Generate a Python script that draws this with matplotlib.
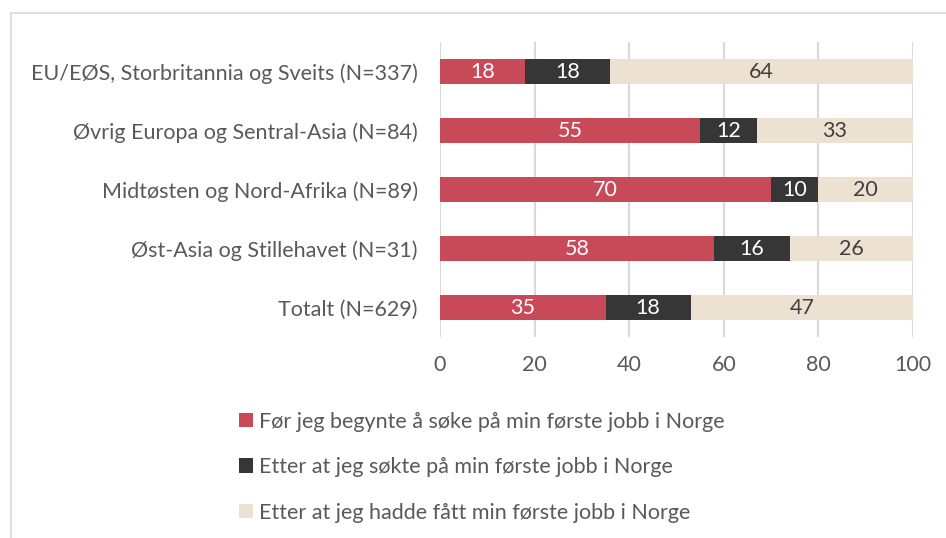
import matplotlib.pyplot as plt
from matplotlib.patches import Patch
from matplotlib.lines import Line2D

# Data
categories = ['EU/EØS, Storbritannia og Sveits (N=337)',
              'Øvrig Europa og Sentral-Asia (N=84)',
              'Midtøsten og Nord-Afrika (N=89)',
              'Øst-Asia og Stillehavet (N=31)',
              'Totalt (N=629)']
before_search = [18, 55, 70, 58, 35]
after_search = [18, 12, 10, 16, 18]
after_job = [64, 33, 20, 26, 47]
series_names = ['Før jeg begynte å søke på min første jobb i Norge',
                'Etter at jeg søkte på min første jobb i Norge',
                'Etter at jeg hadde fått min første jobb i Norge']
colors = ['#C84A59', '#363636', '#EDE1D2']
label_colors = ['white', 'white', '#404040']
text_gray = '#595959'
fs = 15.5

plt.rcParams['font.family'] = ['Lato', 'DejaVu Sans']

fig = plt.figure(figsize=(9.46, 5.38), dpi=100)
ax = fig.add_axes([0.4651, 0.3736, 0.5, 0.5483])

y = list(range(len(categories)))[::-1]
left = [0] * len(categories)
for vals, col, lc, name in zip([before_search, after_search, after_job], colors, label_colors, series_names):
    bars = ax.barh(y, vals, left=left, height=0.41, color=col, label=name, zorder=3)
    for b, v, l in zip(bars, vals, left):
        ax.text(l + v / 2, b.get_y() + b.get_height() / 2, str(v), ha='center', va='center',
                color=lc, fontsize=fs, zorder=4)
    left = [a + b for a, b in zip(left, vals)]

ax.set_xlim(0, 100)
ax.set_ylim(-0.5, len(categories) - 0.5)
ax.set_xticks([0, 20, 40, 60, 80, 100])
ax.set_yticks(y)
ax.set_yticklabels(categories)
ax.tick_params(length=0, labelsize=fs, labelcolor=text_gray)
ax.tick_params(axis='x', pad=13)
ax.tick_params(axis='y', pad=16)
ax.grid(axis='x', color='#D9D9D9', linewidth=1.5, zorder=0)
for s in ax.spines.values():
    s.set_visible(False)

handles = [Patch(facecolor=c, edgecolor='none') for c in colors]
leg = fig.legend(handles, series_names, loc='upper left', bbox_to_anchor=(0.253, 0.2345),
                 frameon=False, fontsize=fs, handlelength=0.65, handleheight=0.65,
                 handletextpad=0.25, labelspacing=1.18, borderaxespad=0, borderpad=0)
for t in leg.get_texts():
    t.set_color(text_gray)

# outer chart frame (only top and left edges visible)
fig.add_artist(Line2D([0.0111, 0.0111], [0, 0.975], transform=fig.transFigure, color='#D9D9D9', linewidth=1.2))
fig.add_artist(Line2D([0.0111, 1.0], [0.975, 0.975], transform=fig.transFigure, color='#D9D9D9', linewidth=1.2))

fig.savefig('out.png', dpi=100)
